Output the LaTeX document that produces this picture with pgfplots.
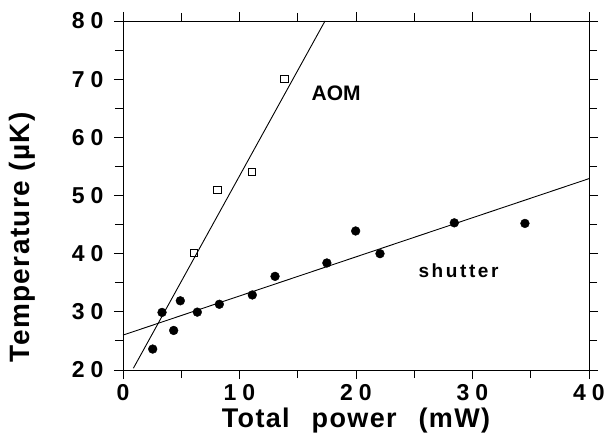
\documentclass[border=0pt]{standalone}
\usepackage{pgfplots}
\pgfplotsset{compat=1.18}
\usepackage{fontspec}
\setmainfont{Liberation Sans}
\newfontfamily\lsfont[LetterSpace=5]{Liberation Sans}
\newcommand{\dg}[2]{#1\kern6pt#2}
\begin{document}
\begin{tikzpicture}
\useasboundingbox (-123pt,-69pt) rectangle (484pt,370pt);
\begin{axis}[
  at={(0pt,0pt)}, anchor=south west,
  scale only axis, width=466pt, height=349pt,
  xmin=0, xmax=40, ymin=20, ymax=80,
  xtick={0,10,20,30,40},
  xticklabels={0,\dg10,\dg20,\dg30,\dg40},
  minor xtick={5,15,25,35},
  ytick={20,30,40,50,60,70,80},
  yticklabels={\dg20,\dg30,\dg40,\dg50,\dg60,\dg70,\dg80},
  minor ytick={25,35,45,55,65,75},
  tick align=outside,
  major tick length=9pt, minor tick length=8pt,
  every tick/.style={black, line width=0.9pt},
  axis line style={line width=0.9pt},
  ticklabel style={font=\fontsize{23}{24}\selectfont\bfseries},
  xticklabel style={yshift=-2pt},
  yticklabel style={xshift=-7pt},
  xlabel={Total\hspace{22pt}power\hspace{22pt}(mW)},
  ylabel={Temperature (\textmu K)},
  xlabel style={font=\lsfont\fontsize{27}{30}\selectfont\bfseries, at={(axis description cs:0.5,-0.166)}, anchor=base},
  ylabel style={font=\lsfont\fontsize{28}{30}\selectfont\bfseries, at={(axis description cs:-0.217,0.38)}, anchor=center},
  clip=true,
]
% AOM fit
\addplot[black, line width=0.9pt] coordinates {(0.89,20.3) (17.34,80)};
% shutter fit
\addplot[black, line width=0.9pt] coordinates {(0,26.0) (40,52.9)};
% AOM data
\addplot[only marks, mark=square, mark size=3.6pt, mark options={black, line width=0.9pt, fill=white}] coordinates {
(6.1,40.1) (8.1,51.0) (11.05,54.1) (13.85,70.0)};
% shutter data
\addplot[only marks, mark=*, mark size=4.4pt, mark options={black, fill=black}] coordinates {
(2.55,23.6) (3.35,29.9) (4.35,26.8) (4.92,31.9) (6.38,29.95) (8.27,31.3)
(11.1,32.9) (13.05,36.1) (17.5,38.4) (19.97,43.9) (22.06,40.0) (28.44,45.3) (34.5,45.2)};
\node[font=\fontsize{21}{24}\selectfont\bfseries] at (axis cs:18.3,67.6) {AOM};
\node[font=\fontsize{19}{22}\selectfont\bfseries] at (axis cs:28.8,37.0) {s\kern2.6pt h\kern2.6pt u\kern2.6pt t\kern2.6pt t\kern2.6pt e\kern2.6pt r};
\end{axis}
\end{tikzpicture}
\end{document}
